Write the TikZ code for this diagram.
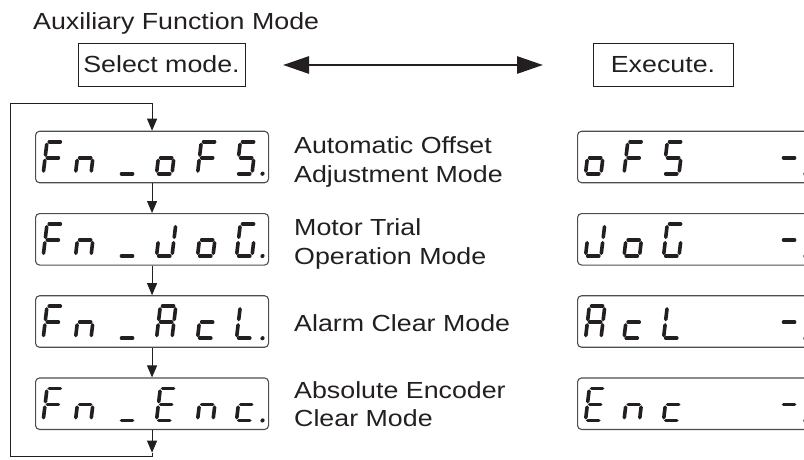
\documentclass[tikz,border=0pt]{standalone}
\usepackage{fontspec}
\setmainfont{Liberation Sans}
\usetikzlibrary{arrows.meta}
\definecolor{ink}{HTML}{231F20}
\definecolor{frame}{HTML}{4D4D4D}
\newcommand\wtext[1]{\scalebox{1.15}[1]{#1}}
\def\SEGa{\draw[seg] (2.2,-32)--(13.3,-32);}
\def\SEGb{\draw[seg] (15.5,-29.3)--(15.5,-18.7);}
\def\SEGc{\draw[seg] (15.5,-13.3)--(15.5,-2.7);}
\def\SEGd{\draw[seg] (2.2,0)--(13.3,0);}
\def\SEGe{\draw[seg] (0,-13.3)--(0,-2.7);}
\def\SEGf{\draw[seg] (0,-29.3)--(0,-18.7);}
\def\SEGg{\draw[seg] (2.2,-16)--(13.3,-16);}
\def\SEGp{\fill[ink] (26,0) circle (2.1);}
\newcommand\sevglyph[3]{\begin{scope}[shift={(#1,#2)},xslant=0.12]\foreach \s in {#3}{\csname SEG\s\endcsname}\end{scope}}
\begin{document}
\begin{tikzpicture}[x=1pt,y=-1pt,
  txt/.style={font=\fontsize{23.3}{28}\selectfont, text=ink, inner sep=0pt, anchor=base west},
  modebox/.style={draw=ink, line width=1pt, minimum height=43pt, inner sep=0pt, font=\fontsize{23.3}{28}\selectfont, text=ink},
  disp/.style={draw=frame, line width=1.1pt, rounded corners=4pt, minimum width=233pt, minimum height=51.5pt, anchor=north west, inner sep=0pt},
  seg/.style={draw=ink, line width=3.6pt, line cap=round},
  flow/.style={draw=ink, line width=1pt},
  flowarr/.style={flow, -{Triangle[length=12pt,width=10pt]}}]
\useasboundingbox (0,0) rectangle (804,459);
% titles
\node[txt] (title) at (33,29.3) {\wtext{Auxiliary Function Mode}};
\node[modebox, minimum width=167pt] (sel) at (161.5,64.5) {\wtext{Select mode.}};
\node[modebox, minimum width=140pt] (exe) at (663,64.5) {\wtext{Execute.}};
\coordinate (arrL) at (283,65);
\coordinate (arrR) at (543,65);
\draw[draw=ink, line width=2.8pt, {Triangle[length=26pt,width=17pt]}-{Triangle[length=26pt,width=17pt]}] (arrL) -- (arrR);
% left displays
\node[disp] (L1) at (35,130.7) {};
\node[disp] (L2) at (35,213) {};
\node[disp] (L3) at (35,295.2) {};
\node[disp] (L4) at (35,377.4) {};
% right displays
\begin{scope}
\clip (0,0) rectangle (804,459);
\node[disp] (R1) at (577,130.7) {};
\node[disp] (R2) at (577,213) {};
\node[disp] (R3) at (577,295.2) {};
\node[disp] (R4) at (577,377.4) {};
% right glyphs
\sevglyph{585.5}{173.7}{c,d,e,g}
\sevglyph{624}{173.7}{a,f,e,g}
\sevglyph{663.5}{173.7}{a,f,g,c,d}
\sevglyph{779.4}{173.7}{g,p}
\sevglyph{585.5}{256}{b,c,d,e}
\sevglyph{624}{256}{c,d,e,g}
\sevglyph{663.5}{256}{a,f,e,d,c}
\sevglyph{779.4}{256}{g,p}
\sevglyph{585.5}{338.2}{a,b,c,e,f,g}
\sevglyph{624}{338.2}{g,e,d}
\sevglyph{663.5}{338.2}{f,e,d}
\sevglyph{779.4}{338.2}{g,p}
\sevglyph{585.5}{420.4}{a,f,g,e,d}
\sevglyph{624}{420.4}{e,g,c}
\sevglyph{663.5}{420.4}{g,e,d}
\sevglyph{779.4}{420.4}{g,p}
\end{scope}
% left glyphs
\foreach \yy in {173.7,256,338.2,420.4}{
  \sevglyph{43.2}{\yy}{a,f,e,g}
  \sevglyph{75.5}{\yy}{e,g,c}
  \sevglyph{119.3}{\yy}{d}
}
\sevglyph{156.5}{173.7}{c,d,e,g}
\sevglyph{197.5}{173.7}{a,f,e,g}
\sevglyph{236.5}{173.7}{a,f,g,c,d,p}
\sevglyph{156.5}{256}{b,c,d,e}
\sevglyph{197.5}{256}{c,d,e,g}
\sevglyph{236.5}{256}{a,f,e,d,c,p}
\sevglyph{156.5}{338.2}{a,b,c,e,f,g}
\sevglyph{197.5}{338.2}{g,e,d}
\sevglyph{236.5}{338.2}{f,e,d,p}
\sevglyph{156.5}{420.4}{a,f,g,e,d}
\sevglyph{197.5}{420.4}{e,g,c}
\sevglyph{236.5}{420.4}{g,e,d,p}
% descriptions
\node[txt] (d1a) at (294,153.3) {\wtext{Automatic Offset}};
\node[txt] (d1b) at (294,182.7) {\wtext{Adjustment Mode}};
\node[txt] (d2a) at (294,235) {\wtext{Motor Trial}};
\node[txt] (d2b) at (294,264) {\wtext{Operation Mode}};
\node[txt] (d3) at (294,331.7) {\wtext{Alarm Clear Mode}};
\node[txt] (d4a) at (294,398) {\wtext{Absolute Encoder}};
\node[txt] (d4b) at (294,426) {\wtext{Clear Mode}};
% flow
\coordinate (top) at (L1.north |- 0,103);
\coordinate (tl) at (10,103);
\coordinate (bl) at (10,456.7);
\coordinate (bot) at (L4.south |- 0,456.7);
\coordinate (bottip) at (L4.south |- 0,452.7);
\draw[flowarr] (top) -- (L1.north);
\draw[flowarr] (L1.south) -- (L2.north);
\draw[flowarr] (L2.south) -- (L3.north);
\draw[flowarr] (L3.south) -- (L4.north);
\draw[flowarr] (L4.south) -- (bottip);
\draw[flow] (bottip) -- (bot) -- (bl) -- (tl) -- (top);
\end{tikzpicture}
\end{document}
